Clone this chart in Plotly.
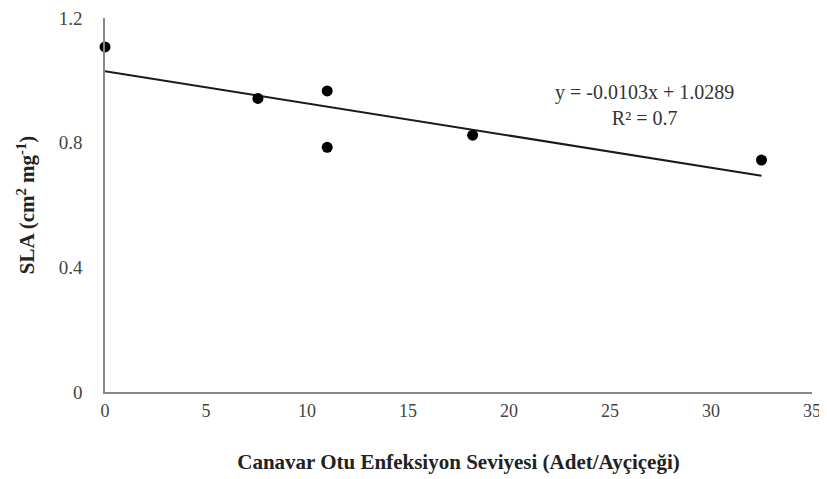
import plotly.graph_objects as go

# Data
infection_level = [0, 7.57, 11.0, 11.0, 18.2, 32.5]
sla_values = [1.107, 0.942, 0.966, 0.785, 0.824, 0.744]

slope = -0.0103
intercept = 1.0289
r_squared = 0.7

x_ticks = [0, 5, 10, 15, 20, 25, 30, 35]
y_ticks = [0, 0.4, 0.8, 1.2]
y_tick_labels = ["0", "0.4", "0.8", "1.2"]

trend_x = [min(infection_level), max(infection_level)]
trend_y = [intercept + slope * v for v in trend_x]

font_family = "Liberation Serif"

fig = go.Figure()
fig.add_trace(go.Scatter(
    x=trend_x, y=trend_y, mode="lines",
    line=dict(color="#1a1a1a", width=2), showlegend=False, hoverinfo="skip"))
fig.add_trace(go.Scatter(
    x=infection_level, y=sla_values, mode="markers", cliponaxis=False,
    marker=dict(color="black", size=11), showlegend=False))

fig.add_annotation(
    x=26.7, y=0.922, xref="x", yref="y",
    text=f"y = {slope}x + {intercept}<br>R² = {r_squared}",
    showarrow=False, align="center",
    font=dict(family=font_family, size=20, color="#333333"))

fig.update_layout(
    width=819, height=471,
    margin=dict(l=97, r=15, t=10, b=87),
    paper_bgcolor="white", plot_bgcolor="white",
    font=dict(family=font_family, size=19, color="#444444"),
    xaxis=dict(
        range=[0, 35], tickvals=x_ticks, showgrid=False, zeroline=False,
        showline=True, linecolor="#888888", linewidth=1.5, ticks="",
        automargin=False, ticklabelstandoff=2, ticklabeloverflow="allow",
        tickfont=dict(size=18, color="#444444"),
        title=dict(text="<b>Canavar Otu Enfeksiyon Seviyesi (Adet/Ayçiçeği)</b>",
                   font=dict(size=21, color="#222222"), standoff=34)),
    yaxis=dict(
        range=[0, 1.2], tickvals=y_ticks, ticktext=y_tick_labels,
        showgrid=False, zeroline=False,
        showline=True, linecolor="#888888", linewidth=1.5, ticks="",
        automargin=False, ticklabelstandoff=17, ticklabeloverflow="allow",
        tickfont=dict(size=19, color="#444444"),
        title=dict(text="<b>SLA (cm<sup>2</sup> mg<sup>-1</sup>)</b>",
                   font=dict(size=21, color="#222222"), standoff=18)),
)

fig.write_html("out.html")
